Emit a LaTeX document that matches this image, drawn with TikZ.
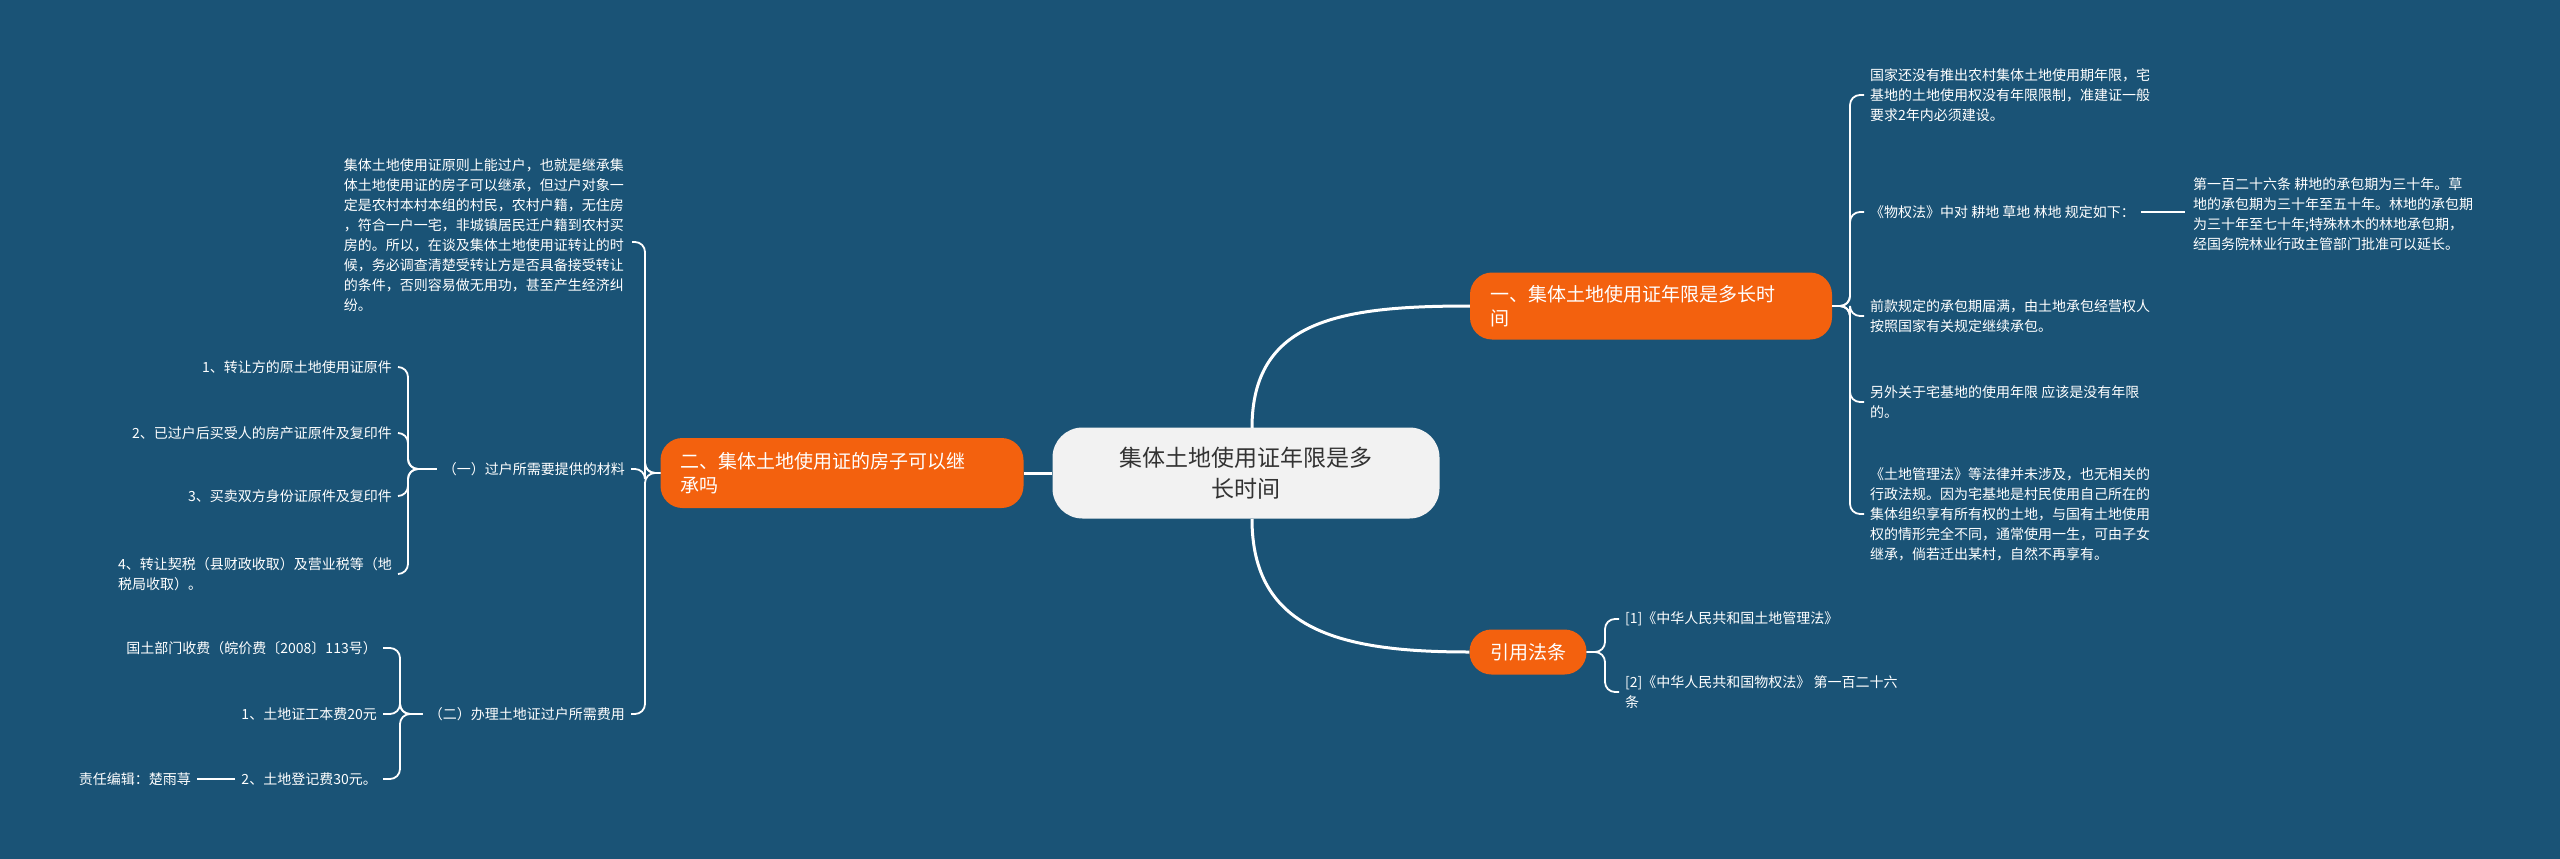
\documentclass[tikz,border=0pt]{standalone}
\usepackage{fontspec}
\setmainfont{Noto Sans CJK SC}
\definecolor{bg}{RGB}{26,83,118}
\definecolor{org}{RGB}{243,97,14}
\definecolor{cen}{RGB}{242,242,242}
\begin{document}
\begin{tikzpicture}[x=1pt,y=-1pt,
  leaf/.style={text=white,font=\fontsize{14}{20}\selectfont,inner sep=0pt,align=left},
  leafr/.style={leaf,align=right},
  br/.style={fill=org,text=white,rounded corners=22pt,font=\fontsize{19}{24}\selectfont,align=left,inner sep=0pt},
  con/.style={draw=white,line width=1.8pt,rounded corners=10pt},
  thick/.style={draw=white,line width=3pt}]
\fill[bg] (0,0) rectangle (2560,859);
\useasboundingbox (0,0) rectangle (2560,859);
% center
\node[fill=cen,rounded corners=30pt,minimum width=387pt,minimum height=91pt,inner sep=0pt,align=center,font=\fontsize{23}{31}\selectfont,text=black!80] (c) at (1246,473) {集体土地使用证年限是多\\长时间};
% branches
\node[br,minimum width=362pt,minimum height=67pt,text width=322pt] (b1) at (1651,306) {一、集体土地使用证年限是多长时\\间};
\node[br,minimum width=363pt,minimum height=70pt,text width=323pt] (b2) at (842,473) {二、集体土地使用证的房子可以继\\承吗};
\node[br,minimum width=117pt,minimum height=45pt,align=center] (b3) at (1528,652) {引用法条};
\draw[thick] (1252,428) .. controls (1252,320) and (1340,306) .. (b1.west);
\draw[thick] (1252,519) .. controls (1252,630) and (1340,652) .. (b3.west);
\draw[thick] (c.west) -- (b2.east);
% branch1 leaves
\node[leaf,anchor=west] (r1) at (1870,95) {国家还没有推出农村集体土地使用期年限，宅\\基地的土地使用权没有年限限制，准建证一般\\要求2年内必须建设。};
\node[leaf,anchor=west] (r2) at (1870,212) {《物权法》中对 耕地 草地 林地 规定如下：};
\node[leaf,anchor=west] (r2a) at (2193,214) {第一百二十六条 耕地的承包期为三十年。草\\地的承包期为三十年至五十年。林地的承包期\\为三十年至七十年;特殊林木的林地承包期，\\经国务院林业行政主管部门批准可以延长。};
\node[leaf,anchor=west] (r3) at (1870,316) {前款规定的承包期届满，由土地承包经营权人\\按照国家有关规定继续承包。};
\node[leaf,anchor=west] (r4) at (1870,402) {另外关于宅基地的使用年限 应该是没有年限\\的。};
\node[leaf,anchor=west] (r5) at (1870,514) {《土地管理法》等法律并未涉及，也无相关的\\行政法规。因为宅基地是村民使用自己所在的\\集体组织享有所有权的土地，与国有土地使用\\权的情形完全不同，通常使用一生，可由子女\\继承，倘若迁出某村，自然不再享有。};
\foreach \n in {r1,r2,r3,r4,r5}
  \draw[con] (b1.east) -- (1850,306) -- (1850,0 |- \n.west) -- ([xshift=-6pt]\n.west);
\draw[con] ([xshift=6pt]r2.east) -- ([xshift=-8pt]r2a.west |- r2.east);
% branch3 leaves
\node[leaf,anchor=west] (s1) at (1625,619) {[1]《中华人民共和国土地管理法》};
\node[leaf,anchor=west] (s2) at (1625,692) {[2]《中华人民共和国物权法》 第一百二十六\\条};
\foreach \n in {s1,s2}
  \draw[con] (b3.east) -- (1605,652) -- (1605,0 |- \n.west) -- ([xshift=-6pt]\n.west);
% branch2 leaves
\node[leaf,anchor=east] (l1) at (624,235) {集体土地使用证原则上能过户，也就是继承集\\体土地使用证的房子可以继承，但过户对象一\\定是农村本村本组的村民，农村户籍，无住房\\，符合一户一宅，非城镇居民迁户籍到农村买\\房的。所以，在谈及集体土地使用证转让的时\\候，务必调查清楚受转让方是否具备接受转让\\的条件，否则容易做无用功，甚至产生经济纠\\纷。};
\node[leafr,anchor=east] (l2) at (625,469) {（一）过户所需要提供的材料};
\node[leafr,anchor=east] (l3) at (625,714) {（二）办理土地证过户所需费用};
\draw[con] (b2.west) -- (645,473) -- (645,242) -- ([xshift=8pt]l1.east |- 0,242);
\foreach \n in {l2,l3}
  \draw[con] (b2.west) -- (645,473) -- (645,0 |- \n.east) -- ([xshift=6pt]\n.east);
% (一) children
\node[leafr,anchor=east] (m1) at (392,367) {1、转让方的原土地使用证原件};
\node[leafr,anchor=east] (m2) at (392,433) {2、已过户后买受人的房产证原件及复印件};
\node[leafr,anchor=east] (m3) at (392,496) {3、买卖双方身份证原件及复印件};
\node[leaf,anchor=east] (m4) at (392,574) {4、转让契税（县财政收取）及营业税等（地\\税局收取）。};
\foreach \n in {m1,m2,m3,m4}
  \draw[con] ([xshift=-6pt]l2.west) -- (408,469) -- (408,0 |- \n.east) -- ([xshift=6pt]\n.east);
% (二) children
\node[leafr,anchor=east] (n1) at (377,648) {国土部门收费（皖价费〔2008〕113号）};
\node[leafr,anchor=east] (n2) at (377,714) {1、土地证工本费20元};
\node[leafr,anchor=east] (n3) at (377,779) {2、土地登记费30元。};
\foreach \n in {n1,n2,n3}
  \draw[con] ([xshift=-6pt]l3.west) -- (400,714) -- (400,0 |- \n.east) -- ([xshift=6pt]\n.east);
\node[leafr,anchor=east] (e1) at (191,779) {责任编辑：楚雨荨};
\draw[con] ([xshift=-6pt]n3.west) -- ([xshift=6pt]e1.east);
\end{tikzpicture}
\end{document}
